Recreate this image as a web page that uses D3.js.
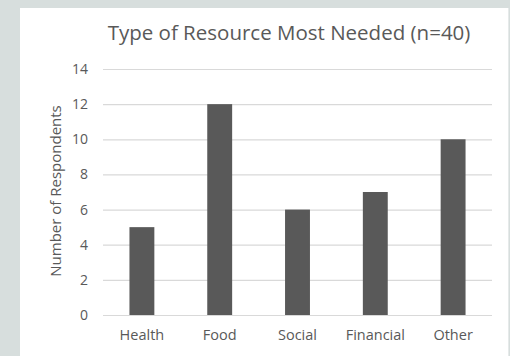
<!DOCTYPE html>
<html>
<head>
<meta charset="utf-8">
<script src="https://cdn.jsdelivr.net/npm/d3@7"></script>
<style>
  html, body { margin: 0; padding: 0; background: #d7dedd; }
  svg { display: block; }
</style>
</head>
<body>
<svg id="chart" width="510" height="356"></svg>
<script>
  // data
  const categories = ["Health", "Food", "Social", "Financial", "Other"];
  const respondents = [5, 12, 6, 7, 10];
  const yTicks = [0, 2, 4, 6, 8, 10, 12, 14];

  const width = 510;
  const height = 356;
  const margin = { top: 69, left: 103, bottom: 41, right: 18 };

  const svg = d3.select("#chart");

  // white panel
  svg.append("rect")
    .attr("x", 20).attr("y", 8)
    .attr("width", 488).attr("height", height - 8)
    .attr("fill", "#ffffff");
  svg.append("line")
    .attr("x1", 508.5).attr("x2", 508.5)
    .attr("y1", 8).attr("y2", height)
    .attr("stroke", "#e6eaea");

  const x = d3.scaleBand()
    .domain(categories)
    .range([margin.left, width - margin.right])
    .paddingInner(0.68)
    .paddingOuter(0.34);

  const y = d3.scaleLinear()
    .domain([0, 14])
    .range([height - margin.bottom, margin.top]);

  // gridlines
  const yAxis = d3.axisLeft(y)
    .tickValues(yTicks)
    .tickSize(-(width - margin.right - margin.left))
    .tickPadding(15);

  const gy = svg.append("g")
    .attr("class", "y-axis")
    .attr("transform", `translate(${margin.left},0)`)
    .call(yAxis);
  gy.select(".domain").remove();
  gy.selectAll(".tick line").attr("stroke", "#d9d9d9").attr("stroke-width", 1.2);
  gy.selectAll(".tick text")
    .attr("fill", "#595959")
    .attr("font-family", "'Open Sans', sans-serif")
    .attr("font-size", "14px");

  // bars
  svg.selectAll(".bar")
    .data(respondents)
    .join("rect")
    .attr("class", "bar")
    .attr("x", (v, i) => x(categories[i]))
    .attr("y", v => y(v))
    .attr("width", x.bandwidth())
    .attr("height", v => y(0) - y(v))
    .attr("fill", "#595959");

  // x axis labels
  const xAxis = d3.axisBottom(x).tickSize(0).tickPadding(15);
  const gx = svg.append("g")
    .attr("class", "x-axis")
    .attr("transform", `translate(0,${y(0)})`)
    .call(xAxis);
  gx.select(".domain").remove();
  gx.selectAll(".tick text")
    .attr("fill", "#595959")
    .attr("font-family", "'Open Sans', sans-serif")
    .attr("font-size", "14.5px");

  // title
  svg.append("text")
    .attr("x", 289)
    .attr("y", 40)
    .attr("text-anchor", "middle")
    .attr("fill", "#595959")
    .attr("font-family", "'Open Sans', sans-serif")
    .attr("font-size", "20.5px")
    .text("Type of Resource Most Needed (n=40)");

  // y axis title
  svg.append("text")
    .attr("transform", "rotate(-90)")
    .attr("x", -191)
    .attr("y", 61)
    .attr("text-anchor", "middle")
    .attr("fill", "#595959")
    .attr("font-family", "'Open Sans', sans-serif")
    .attr("font-size", "15px")
    .text("Number of Respondents");
</script>
</body>
</html>
